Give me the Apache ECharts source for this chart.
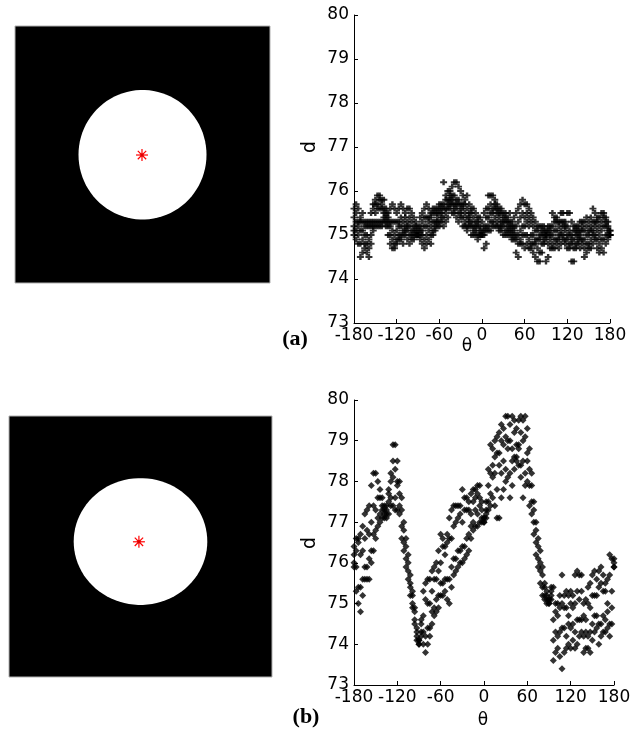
<!DOCTYPE html>
<html>
<head>
<meta charset="utf-8">
<title>d vs theta</title>
<script src="https://cdn.jsdelivr.net/npm/echarts@6/dist/echarts.min.js"></script>
<style>
    html, body {margin: 0; padding: 0; background: #fff;}
    #chart {width: 636px; height: 729px;}
</style>
</head>
<body>
<div id="chart"></div>
<script>
// image panels, in image units (0..100): circle cx, cy, rx, ry and the red star
var circleA = [50.0, 50.1, 25.1, 25.2];
var starA = [49.8, 50.2];
var circleB = [50.0, 48.1, 25.4, 24.3];
var starB = [49.4, 48.2];

var xTicks = [-180, -120, -60, 0, 60, 120, 180];
var yTicks = [73, 74, 75, 76, 77, 78, 79, 80];

var theta = [-180,-177,-174,-171,-168,-165,-162,-159,-156,-153,-150,-147,-144,-141,-138,-135,-132,-129,-126,-123,-120,-117,-114,-111,-108,-105,-102,-99,-96,-93,-90,-87,-84,-81,-78,-75,-72,-69,-66,-63,-60,-57,-54,-51,-48,-45,-42,-39,-36,-33,-30,-27,-24,-21,-18,-15,-12,-9,-6,-3,
    0,3,6,9,12,15,18,21,24,27,30,33,36,39,42,45,48,51,54,57,60,63,66,69,72,75,78,81,84,87,90,93,96,99,102,105,108,111,114,117,120,123,126,129,132,135,138,141,144,147,150,153,156,159,162,165,168,171,174,177,180];

// panel (a): d at each theta, several points per angle
var dA1 = [75.0,74.9,74.8,74.5,74.6,74.7,74.6,74.5,74.8,75.1,75.2,75.2,75.2,75.2,75.3,75.2,75.0,74.8,74.7,74.7,74.8,74.9,74.9,74.8,75.0,74.9,74.8,74.9,74.9,75.0,75.0,74.9,74.8,74.7,74.8,74.9,74.8,75.0,75.1,75.2,75.2,75.3,75.2,75.3,75.4,75.6,75.5,75.5,75.4,75.3,75.4,75.2,75.2,75.1,75.2,75.0,75.0,75.0,74.9,75.0,
    75.0,74.7,74.8,75.1,75.1,75.2,75.2,75.2,75.1,75.1,75.0,75.0,75.0,75.0,74.9,74.9,74.6,74.5,74.8,74.8,74.7,74.8,74.7,74.7,74.6,74.5,74.4,74.4,74.6,74.8,74.4,74.5,74.7,74.7,74.7,74.8,74.7,74.8,74.9,74.8,74.7,74.7,74.4,74.4,74.7,74.8,74.7,74.8,74.5,74.6,74.7,74.7,74.8,74.9,74.7,74.6,74.7,74.6,74.8,74.9,75.0];
var dA2 = [75.1,75.1,75.0,74.8,74.9,74.8,74.8,74.7,75.0,75.2,75.3,75.3,75.3,75.3,75.4,75.3,75.2,75.0,74.9,74.8,74.9,75.0,75.0,75.0,75.1,75.1,75.0,75.0,75.0,75.0,75.0,75.0,75.0,74.9,75.0,75.1,75.0,75.1,75.2,75.3,75.3,75.4,75.4,75.5,75.6,75.7,75.7,75.6,75.6,75.5,75.5,75.4,75.3,75.2,75.3,75.2,75.1,75.1,75.0,75.0,
    75.0,75.0,75.1,75.2,75.3,75.3,75.4,75.3,75.2,75.2,75.2,75.1,75.1,75.1,75.0,75.0,74.9,74.8,74.9,75.0,75.0,75.0,74.9,74.8,74.8,74.8,74.7,74.6,74.8,74.9,74.9,74.8,74.9,74.8,74.9,74.9,74.9,75.0,75.0,74.9,74.9,74.8,74.8,74.7,74.8,74.9,74.9,74.9,74.7,74.8,74.8,74.9,75.0,75.0,74.9,74.8,74.9,74.9,75.0,75.0,75.0];
var dA3 = [75.2,75.3,75.2,75.1,75.1,75.0,75.0,74.9,75.2,75.3,75.5,75.6,75.6,75.6,75.5,75.4,75.3,75.2,75.1,75.0,75.1,75.2,75.2,75.1,75.2,75.2,75.2,75.1,75.1,75.1,75.0,75.1,75.1,75.2,75.2,75.3,75.2,75.3,75.3,75.4,75.5,75.5,75.6,75.6,75.7,75.8,75.8,75.7,75.7,75.7,75.6,75.6,75.5,75.4,75.4,75.3,75.2,75.2,75.2,75.1,
    75.0,75.1,75.2,75.4,75.5,75.5,75.6,75.5,75.4,75.3,75.3,75.3,75.2,75.2,75.1,75.1,75.0,75.0,75.1,75.2,75.2,75.3,75.2,75.0,75.0,74.9,74.9,74.9,75.0,75.0,75.0,75.0,75.0,75.0,75.1,75.1,75.0,75.1,75.2,75.1,75.0,75.0,74.9,74.9,75.0,75.0,75.0,75.1,74.9,75.0,75.0,75.1,75.1,75.2,75.1,75.0,75.1,75.2,75.2,75.1,75.0];
var dA4 = [75.4,75.5,75.3,75.3,75.3,75.2,75.2,75.2,75.3,75.6,75.7,75.7,75.8,75.7,75.6,75.5,75.4,75.3,75.3,75.3,75.3,75.3,75.4,75.3,75.4,75.3,75.4,75.3,75.2,75.2,75.1,75.2,75.3,75.4,75.4,75.4,75.4,75.5,75.5,75.5,75.6,75.6,75.7,75.8,75.8,75.9,75.9,75.9,75.8,75.8,75.7,75.7,75.7,75.6,75.5,75.5,75.4,75.3,75.3,75.2,
    75.1,75.2,75.4,75.6,75.7,75.6,75.7,75.6,75.5,75.5,75.4,75.4,75.3,75.3,75.2,75.2,75.2,75.3,75.4,75.5,75.4,75.5,75.4,75.3,75.2,75.1,75.1,75.0,75.1,75.1,75.0,75.1,75.1,75.2,75.3,75.3,75.2,75.3,75.3,75.2,75.2,75.1,75.0,75.1,75.1,75.1,75.1,75.2,75.1,75.2,75.1,75.2,75.3,75.3,75.3,75.2,75.3,75.4,75.3,75.2,75.1];
var dA5 = [75.6,75.7,75.6,75.4,75.5,75.3,75.3,75.3,75.5,75.7,75.8,75.9,75.9,75.8,75.8,75.6,75.5,75.6,75.7,75.6,75.5,75.6,75.7,75.6,75.5,75.6,75.6,75.5,75.4,75.3,75.2,75.4,75.5,75.6,75.7,75.6,75.5,75.6,75.6,75.6,75.7,75.7,76.2,75.9,76.0,76.0,76.1,76.2,76.2,76.1,76.0,75.9,75.8,75.9,75.7,75.6,75.6,75.5,75.4,75.4,
    75.3,75.5,75.6,75.9,75.9,75.9,75.8,75.7,75.6,75.6,75.5,75.5,75.4,75.5,75.3,75.4,75.5,75.6,75.7,75.8,75.7,75.7,75.6,75.5,75.4,75.3,75.2,75.2,75.2,75.2,75.1,75.2,75.2,75.5,75.4,75.4,75.3,75.5,75.5,75.3,75.5,75.5,75.3,75.2,75.2,75.2,75.3,75.3,75.3,75.4,75.3,75.4,75.6,75.5,75.4,75.4,75.5,75.5,75.4,75.3,75.1];

// panel (b)
var dB1 = [75.9,75.3,75.0,74.8,75.2,75.6,75.6,75.6,76.0,76.3,76.6,76.9,77.0,77.1,77.1,77.1,77.2,77.4,77.4,77.3,77.3,77.2,76.6,76.3,75.9,75.6,75.2,74.9,74.5,74.1,74.0,74.2,74.0,73.8,74.0,74.2,74.5,74.7,74.8,74.9,75.2,75.2,75.3,75.1,75.0,75.4,75.7,75.8,75.9,76.0,76.0,76.1,76.2,76.3,76.6,76.8,76.9,76.9,77.0,77.0,
    77.0,77.1,77.3,77.4,77.6,77.4,77.1,77.1,77.6,77.8,78.0,78.1,77.6,77.9,78.3,78.5,78.4,78.1,77.6,77.9,78.0,77.4,77.2,76.7,76.2,75.9,75.5,75.2,75.1,75.0,75.0,75.1,73.6,73.8,73.9,73.7,73.4,73.8,73.9,74.0,73.9,74.1,73.9,74.0,74.2,74.3,73.8,73.9,73.9,73.8,74.1,74.3,74.4,74.0,74.2,74.3,74.3,74.4,74.2,74.5,75.9];
var dB2 = [76.0,76.3,75.4,76.2,75.6,76.6,75.9,76.7,76.3,77.4,76.8,77.6,77.2,77.4,77.2,77.2,77.5,77.6,78.1,77.6,77.9,77.4,76.9,76.5,76.1,75.8,75.4,75.0,74.6,74.2,74.0,74.3,74.7,74.2,75.0,74.4,75.3,74.9,75.6,75.2,76.0,75.5,76.2,75.6,76.6,75.9,76.9,76.1,77.1,76.3,77.0,76.4,77.3,76.7,77.2,77.0,77.6,77.2,77.6,77.1,
    77.0,77.3,77.5,78.2,78.1,78.6,77.8,78.7,78.2,78.9,78.3,79.0,78.2,78.8,78.6,78.6,78.8,78.4,79.0,78.2,78.7,77.9,77.5,77.0,76.5,76.1,75.8,75.4,75.2,75.1,75.0,75.2,74.1,74.8,74.2,74.9,74.4,74.9,74.2,74.7,74.4,74.9,74.3,75.3,74.6,75.3,74.2,74.6,74.2,74.9,74.5,75.2,74.7,75.4,74.5,75.3,74.6,75.0,74.5,75.3,75.9];
var dB3 = [76.2,75.9,76.5,75.4,76.3,75.9,76.8,76.1,77.0,76.7,77.3,77.1,77.6,77.3,77.3,77.3,77.7,78.0,78.5,78.3,78.0,77.7,77.3,76.8,76.4,76.0,75.5,75.2,74.8,74.3,74.1,74.5,74.3,75.1,74.4,75.0,74.8,75.6,75.1,75.8,75.5,76.4,75.6,76.5,75.6,76.6,76.1,77.0,76.3,77.2,76.4,77.3,76.6,77.3,76.9,77.5,77.3,77.7,77.4,77.3,
    77.1,77.2,77.9,77.7,78.4,78.2,78.7,78.4,79.0,78.5,79.1,78.8,79.0,78.5,79.2,78.9,78.9,79.2,78.5,79.1,78.5,78.3,77.9,77.3,76.8,76.4,76.0,75.7,75.4,75.2,75.1,75.3,74.6,74.3,74.7,74.3,75.0,74.4,74.9,74.5,75.0,74.5,75.0,74.6,75.1,74.6,74.7,74.3,75.0,74.3,75.2,74.7,75.2,74.5,75.5,74.7,75.3,74.8,75.7,74.9,76.0];
var dB4 = [76.4,76.6,76.6,76.7,76.9,77.2,77.3,77.4,77.9,78.2,78.2,78.0,77.8,77.6,77.4,77.4,77.8,78.2,78.9,78.9,78.5,78.0,77.6,77.0,76.6,76.2,75.7,75.3,74.9,74.4,74.1,74.6,75.3,75.5,75.6,75.6,75.8,75.9,76.0,76.3,76.7,76.6,76.4,76.7,77.1,77.3,77.4,77.4,77.4,77.4,77.8,77.6,77.6,77.5,77.7,77.8,77.8,77.9,77.9,77.5,
    77.1,77.5,78.3,78.9,78.8,79.0,79.1,79.2,79.4,79.3,79.6,79.6,79.4,79.6,79.5,79.3,79.5,79.6,79.5,79.6,79.3,78.8,78.2,77.5,77.0,76.6,76.3,75.9,75.5,75.3,75.1,75.4,75.4,75.0,75.0,75.2,75.7,75.2,75.3,75.2,75.3,75.2,75.7,75.8,75.7,75.7,75.0,75.1,75.4,75.5,75.7,75.8,75.6,75.8,75.9,75.7,75.5,75.6,76.2,76.1,76.1];

var layersA = [dA1, dA2, dA3, dA4, dA5];
var layersB = [dB1, dB2, dB3, dB4];

var tickFont = 'DejaVu Sans, Verdana, sans-serif';
var plusSymbol = 'path://M2.3,0H4.7V2.2H7V4.2H4.7V6.4H2.3V4.2H0V2.2H2.3Z';

function pairs(d) {
    var out = [];
    for (var i = 0; i < theta.length; i++) {
        out.push([theta[i], d[i]]);
    }
    return out;
}

function circleItem(params, api) {
    var pts = [];
    var cx = api.value(0), cy = api.value(1), rx = api.value(2), ry = api.value(3);
    for (var i = 0; i < 90; i++) {
        var a = i / 90 * Math.PI * 2;
        pts.push(api.coord([cx + rx * Math.cos(a), cy + ry * Math.sin(a)]));
    }
    return {type: 'polygon', shape: {points: pts}, style: {fill: '#fff'}};
}

function starItem(params, api) {
    var c = api.coord([api.value(0), api.value(1)]);
    var r = 6, q = 4.2;
    var segs = [[-r, 0, r, 0], [0, -r, 0, r], [-q, -q, q, q], [-q, q, q, -q]];
    var children = segs.map(function (s) {
        return {type: 'line', shape: {x1: c[0] + s[0], y1: c[1] + s[1], x2: c[0] + s[2], y2: c[1] + s[3]},
            style: {stroke: '#ff0000', lineWidth: 1.2}};
    });
    children.push({type: 'circle', shape: {cx: c[0], cy: c[1], r: 1.8}, style: {fill: '#e00000'}});
    return {type: 'group', children: children};
}

function imageAxes(idx) {
    return {
        x: {gridIndex: idx, type: 'value', min: 0, max: 100, show: false},
        y: {gridIndex: idx, type: 'value', min: 0, max: 100, inverse: true, show: false}
    };
}

function plotX(idx) {
    return {
        gridIndex: idx, type: 'value', min: xTicks[0], max: xTicks[xTicks.length - 1], interval: 60,
        axisLine: {show: true, onZero: false, lineStyle: {color: '#000', width: 1}},
        axisTick: {show: true, inside: true, length: 4, lineStyle: {color: '#000'}},
        axisLabel: {color: '#000', fontSize: 17, fontFamily: tickFont, margin: 4},
        splitLine: {show: false}
    };
}

function plotY(idx) {
    return {
        gridIndex: idx, type: 'value', min: yTicks[0], max: yTicks[yTicks.length - 1], interval: 1,
        axisLine: {show: true, onZero: false, lineStyle: {color: '#000', width: 1}},
        axisTick: {show: true, inside: true, length: 4, lineStyle: {color: '#000'}},
        axisLabel: {color: '#000', fontSize: 17, fontFamily: tickFont, margin: 5},
        splitLine: {show: false}
    };
}

var imgA = imageAxes(0), imgB = imageAxes(2);

var series = [
    {type: 'custom', xAxisIndex: 0, yAxisIndex: 0, renderItem: circleItem, data: [circleA], silent: true},
    {type: 'custom', xAxisIndex: 0, yAxisIndex: 0, renderItem: starItem, data: [starA], silent: true},
    {type: 'custom', xAxisIndex: 2, yAxisIndex: 2, renderItem: circleItem, data: [circleB], silent: true},
    {type: 'custom', xAxisIndex: 2, yAxisIndex: 2, renderItem: starItem, data: [starB], silent: true}
];
layersA.forEach(function (d) {
    series.push({type: 'scatter', xAxisIndex: 1, yAxisIndex: 1, data: pairs(d),
        symbol: plusSymbol, symbolSize: [7, 6], itemStyle: {color: '#000'}, silent: true});
});
layersB.forEach(function (d) {
    series.push({type: 'scatter', xAxisIndex: 3, yAxisIndex: 3, data: pairs(d),
        symbol: 'diamond', symbolSize: 7, itemStyle: {color: '#000'}, silent: true});
});

function label(text, x, y, font, rot) {
    return {type: 'text', x: x, y: y, rotation: rot || 0,
        style: {text: text, font: font, fill: '#000', textAlign: 'center', textVerticalAlign: 'middle'}};
}

var chart = echarts.init(document.getElementById('chart'));
chart.setOption({
    animation: false,
    backgroundColor: '#fff',
    grid: [
        {left: 15, top: 26, width: 255, height: 257, show: true, backgroundColor: '#000', borderColor: '#b0b0b0', borderWidth: 1},
        {left: 354, top: 15, width: 256, height: 308},
        {left: 9, top: 416, width: 263, height: 261, show: true, backgroundColor: '#000', borderColor: '#b0b0b0', borderWidth: 1},
        {left: 354, top: 400, width: 260, height: 285}
    ],
    xAxis: [imgA.x, plotX(1), imgB.x, plotX(3)],
    yAxis: [imgA.y, plotY(1), imgB.y, plotY(3)],
    series: series,
    graphic: [
        label('d', 310, 147, '19px ' + tickFont, Math.PI / 2),
        label('\u03b8', 467, 347, '17px ' + tickFont),
        label('(a)', 295, 339, 'bold 22px Liberation Serif, Times New Roman, serif'),
        label('d', 310, 543, '19px ' + tickFont, Math.PI / 2),
        label('\u03b8', 483, 721, '17px ' + tickFont),
        label('(b)', 306, 717, 'bold 22px Liberation Serif, Times New Roman, serif')
    ]
});
</script>
</body>
</html>
